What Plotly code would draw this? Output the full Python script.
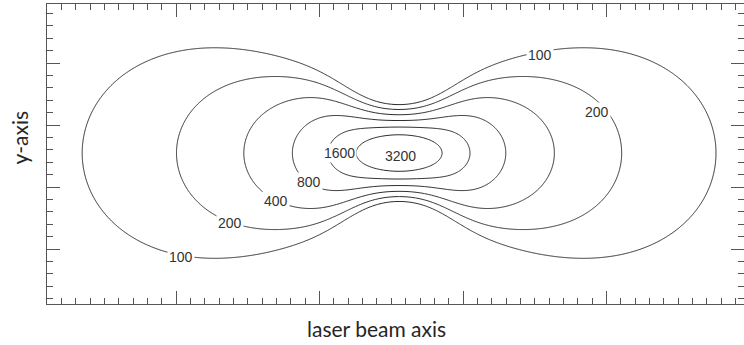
import numpy as np
import plotly.graph_objects as go

# Contour levels of the scattered intensity (each step doubles)
LEVELS = [100, 200, 400, 800, 1600, 3200]

# Contour label texts and their anchor points (axis units)
LABEL_TEXT = ["100", "100", "200", "200", "400", "800", "1600", "3200"]
LABEL_X = [10.35, 35.37, 13.76, 39.34, 16.97, 19.27, 21.36, 25.61]
LABEL_Y = [4.35, 20.65, 7.10, 16.05, 8.87, 10.40, 12.74, 12.50]

# Intensity model: 1/r^2-like fall-off along the laser beam axis,
# a transverse profile that is sharp near the focus and widens away from it
PEAK = 7638.0
CENTER_X, CENTER_Y = 25.54, 12.74
CORE_X = 2.544          # axial core radius
WAIST_Y = 2.509         # transverse Gaussian width at the focus
SPREAD = 0.612          # growth of the transverse width along the axis
CUSP = 0.6              # extra transverse fall-off close to the focus
CUSP_ROUND = 0.8        # rounding of that fall-off on the axis
CUSP_LEN = 3.136        # axial extent of that extra fall-off

X_RANGE = [1.0, 49.58]
Y_RANGE = [0.565, 24.76]

xs = np.linspace(X_RANGE[0], X_RANGE[1], 700)
ys = np.linspace(Y_RANGE[0], Y_RANGE[1], 420)
gx, gy = np.meshgrid(xs, ys)
dx = gx - CENTER_X
dy = gy - CENTER_Y
soft_abs = np.sqrt(dy ** 2 + CUSP_ROUND ** 2) - CUSP_ROUND
transverse = dy ** 2 / (WAIST_Y ** 2 + (SPREAD * dx) ** 2) + CUSP * soft_abs * np.exp(-(dx / CUSP_LEN) ** 2)
intensity = PEAK / (1.0 + (dx / CORE_X) ** 2) * np.exp(-transverse)

LINE = "#2b2b2b"
AXIS = "#555555"

fig = go.Figure()
for level in LEVELS:
    fig.add_trace(
        go.Contour(
            x=xs,
            y=ys,
            z=intensity,
            contours=dict(start=level, end=level, size=1, coloring="lines", showlabels=False),
            line=dict(color=LINE, width=1.0, smoothing=1.0),
            colorscale=[[0, LINE], [1, LINE]],
            showscale=False,
            hoverinfo="skip",
        )
    )

annotations = []
for text, lx, ly in zip(LABEL_TEXT, LABEL_X, LABEL_Y):
    annotations.append(
        dict(
            x=lx, y=ly, xref="x", yref="y", text=text, showarrow=False,
            font=dict(family="Liberation Sans, Arial, sans-serif", size=14, color="#333333"),
            bgcolor="white", borderpad=1,
        )
    )

# Axis titles
annotations.append(
    dict(
        x=24.0, y=-0.08, xref="x", yref="paper", text="laser beam axis",
        showarrow=False, xanchor="center", yanchor="middle",
        font=dict(family="Lato, Open Sans, sans-serif", size=21, color="#262626"),
    )
)
annotations.append(
    dict(
        x=-0.0387, y=13.99, xref="paper", yref="y", text="y-axis", textangle=-90,
        showarrow=False, xanchor="center", yanchor="middle",
        font=dict(family="Lato, Open Sans, sans-serif", size=21, color="#262626"),
    )
)

axis_common = dict(
    showline=True, linecolor=AXIS, linewidth=1, mirror="allticks",
    ticks="inside", ticklen=13, tickwidth=1, tickcolor=AXIS,
    showticklabels=False, showgrid=False, zeroline=False,
)

fig.update_xaxes(
    range=X_RANGE, tick0=10, dtick=10,
    minor=dict(ticks="inside", ticklen=6, tickwidth=1, tickcolor=AXIS, dtick=1, showgrid=False),
    **axis_common,
)
fig.update_yaxes(
    range=Y_RANGE, tick0=0, dtick=5,
    minor=dict(ticks="inside", ticklen=6, tickwidth=1, tickcolor=AXIS, dtick=1, showgrid=False),
    **axis_common,
)

fig.update_layout(
    width=744, height=345,
    margin=dict(l=47, r=0, t=4, b=41),
    paper_bgcolor="white", plot_bgcolor="white",
    showlegend=False,
    annotations=annotations,
)

fig.write_html("out.html")
